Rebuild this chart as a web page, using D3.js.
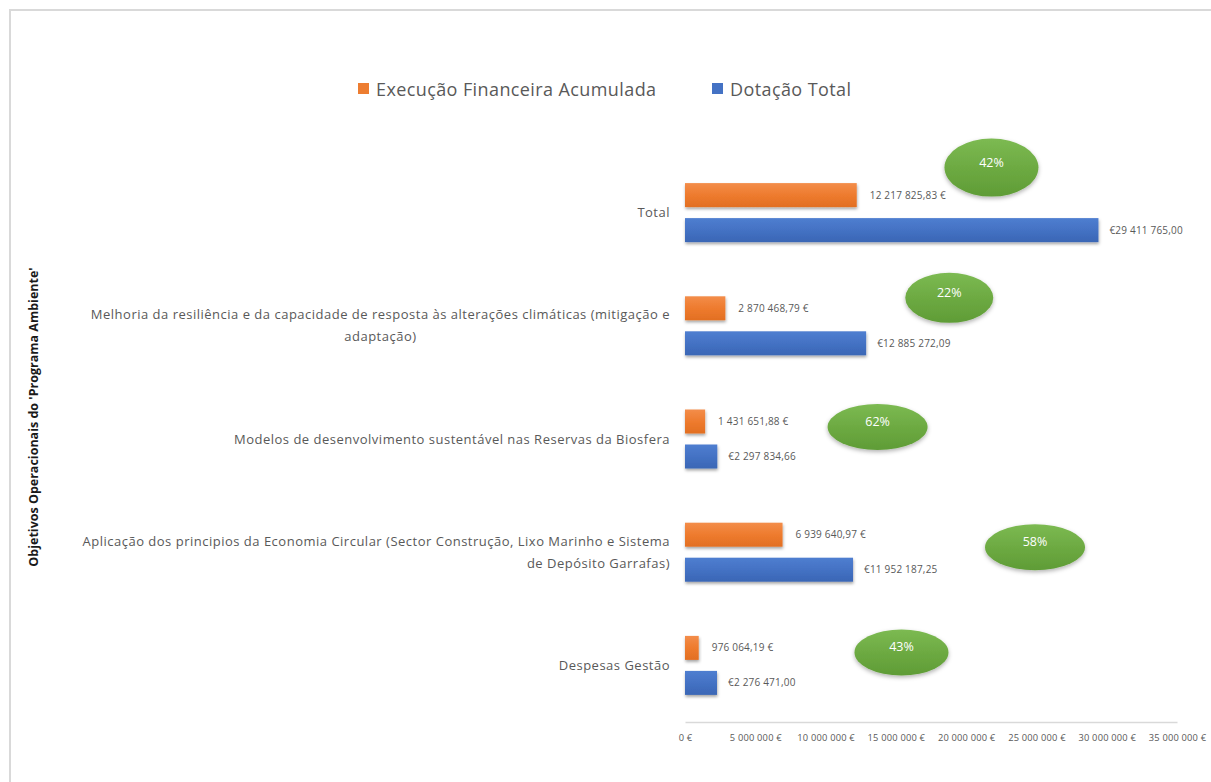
<!DOCTYPE html>
<html lang="pt">
<head>
<meta charset="utf-8">
<title>Programa Ambiente – Execução Financeira</title>
<script src="https://cdn.jsdelivr.net/npm/d3@7"></script>
<style>
  html, body { margin: 0; padding: 0; background: #ffffff; }
  svg { display: block; font-family: "Open Sans", Lato, sans-serif; }
</style>
</head>
<body>
<svg id="chart" width="1211" height="782"></svg>
<script>
// Objetivos operacionais (eixo vertical), de cima para baixo
const categories = [
  "Total",
  "Melhoria da resiliência e da capacidade de resposta às alterações climáticas (mitigação e adaptação)",
  "Modelos de desenvolvimento sustentável nas Reservas da Biosfera",
  "Aplicação dos principios da Economia Circular (Sector Construção, Lixo Marinho e Sistema de Depósito Garrafas)",
  "Despesas Gestão"
];
// Linhas em que cada rótulo de categoria é quebrado
const categoryLines = [
  ["Total"],
  ["Melhoria da resiliência e da capacidade de resposta às alterações climáticas (mitigação e", "adaptação)"],
  ["Modelos de desenvolvimento sustentável nas Reservas da Biosfera"],
  ["Aplicação dos principios da Economia Circular (Sector Construção, Lixo Marinho e Sistema", "de Depósito Garrafas)"],
  ["Despesas Gestão"]
];
const seriesNames = ["Execução Financeira Acumulada", "Dotação Total"];
const execucao = [12217825.83, 2870468.79, 1431651.88, 6939640.97, 976064.19];
const dotacao  = [29411765.00, 12885272.09, 2297834.66, 11952187.25, 2276471.00];
const tickValues = [0, 5000000, 10000000, 15000000, 20000000, 25000000, 30000000, 35000000];
const axisTitle = "Objetivos Operacionais do 'Programa Ambiente'";

// ---- layout ----
const svg = d3.select("#chart");
const W = 1211, H = 782;
const plot = { left: 685, right: 1177, top: 156, bottom: 722 };
const colors = { exec: "#ED7D31", dot: "#4472C4", text: "#595959", green: "#70AD47" };
const barH = 24, barGap = 11;

// where each percentage badge sits: x in axis units, y offset from the band centre
const badgePlace = [
  { at: 21.8e6, dy: -45, rx: 47, ry: 29 },
  { at: 18.8e6, dy: -28, rx: 44, ry: 25 },
  { at: 13.7e6, dy: -12, rx: 50, ry: 23 },
  { at: 24.9e6, dy: -5,  rx: 50, ry: 23 },
  { at: 15.4e6, dy: -13, rx: 47, ry: 23 }
];

const ptLocale = d3.formatLocale({ decimal: ",", thousands: " ", grouping: [3], currency: ["", " €"] });
const money2 = ptLocale.format(",.2f");
const money0 = ptLocale.format(",.0f");
const pct = d3.format(".0%");

const x = d3.scaleLinear().domain([0, 35000000]).range([plot.left, plot.right]);
const y = d3.scaleBand().domain(categories).range([plot.top, plot.bottom]).padding(0);

// ---- defs: gradients and shadows ----
const defs = svg.append("defs");
function vGrad(id, top, mid, bot) {
  const g = defs.append("linearGradient").attr("id", id).attr("x1", 0).attr("y1", 0).attr("x2", 0).attr("y2", 1);
  g.append("stop").attr("offset", "0%").attr("stop-color", top);
  g.append("stop").attr("offset", "50%").attr("stop-color", mid);
  g.append("stop").attr("offset", "100%").attr("stop-color", bot);
}
vGrad("gExec", "#F38D4A", "#EE7B2E", "#E26F22");
vGrad("gDot", "#4F7ED0", "#4472C4", "#3A66B5");
vGrad("gGreen", "#7CBA52", "#6DAA42", "#5F9C36");
const sh = defs.append("filter").attr("id", "shadow").attr("x", "-20%").attr("y", "-30%").attr("width", "140%").attr("height", "180%");
sh.append("feDropShadow").attr("dx", 0.5).attr("dy", 2).attr("stdDeviation", 1.4).attr("flood-color", "#000").attr("flood-opacity", 0.35);
const shE = defs.append("filter").attr("id", "shadowE").attr("x", "-20%").attr("y", "-30%").attr("width", "140%").attr("height", "180%");
shE.append("feDropShadow").attr("dx", 0).attr("dy", 2).attr("stdDeviation", 2).attr("flood-color", "#000").attr("flood-opacity", 0.3);

// ---- frame ----
svg.append("path")
  .attr("d", `M10,${H} V10 H${W}`)
  .attr("fill", "none").attr("stroke", "#d9d9d9").attr("stroke-width", 2);

// ---- legend ----
const legend = svg.append("g").attr("font-size", 18).attr("letter-spacing", 0.4).attr("fill", colors.text);
[[358, colors.exec, seriesNames[0]], [712, colors.dot, seriesNames[1]]].forEach(([lx, c, t]) => {
  legend.append("rect").attr("x", lx).attr("y", 83).attr("width", 11).attr("height", 11).attr("fill", c);
  legend.append("text").attr("x", lx + 18).attr("y", 96).text(t);
});

// ---- x axis ----
const xAxis = d3.axisBottom(x).tickValues(tickValues).tickSize(0).tickPadding(12)
  .tickFormat(d => d === 0 ? "0 €" : money0(d) + " €");
const gx = svg.append("g").attr("transform", `translate(0,${plot.bottom})`).call(xAxis);
gx.select(".domain").attr("stroke", "#d9d9d9").attr("stroke-width", 1.5);
gx.selectAll("text").attr("fill", colors.text).attr("font-size", 9.3).attr("letter-spacing", 0.2)
  .attr("font-family", "'Open Sans', sans-serif");

// ---- y axis title ----
svg.append("text")
  .attr("transform", `translate(38,${(plot.top + plot.bottom) / 2 - 22}) rotate(-90)`)
  .attr("text-anchor", "middle").attr("font-size", 12.5).attr("font-weight", "bold").attr("fill", "#1a1a1a")
  .text(axisTitle);

// ---- category labels ----
const labelRight = 670, lineH = 22;
categories.forEach((c, i) => {
  const lines = categoryLines[i];
  const cy = y(c) + y.bandwidth() / 2;
  const g = svg.append("g").attr("font-size", 13).attr("letter-spacing", 0.5).attr("fill", colors.text);
  const texts = lines.map((ln, k) => g.append("text")
    .attr("y", cy + (k - (lines.length - 1) / 2) * lineH + 4.5).text(ln));
  const widths = texts.map(t => t.node().getComputedTextLength());
  const block = d3.max(widths);
  texts.forEach((t, k) => {
    // last wrapped line of the economy-circular label sits flush right
    if (i === 3 && k > 0) t.attr("x", labelRight).attr("text-anchor", "end");
    else t.attr("x", labelRight - block / 2).attr("text-anchor", "middle");
  });
});

// ---- bars ----
const rows = categories.map((c, i) => ({ c, exec: execucao[i], dot: dotacao[i], i }));
const bars = svg.append("g");
rows.forEach(r => {
  const cy = y(r.c) + y.bandwidth() / 2;
  const yExec = cy - barGap / 2 - barH, yDot = cy + barGap / 2;
  bars.append("rect").attr("x", x(0)).attr("y", yExec)
    .attr("width", x(r.exec) - x(0)).attr("height", barH)
    .attr("fill", "url(#gExec)").attr("filter", "url(#shadow)");
  bars.append("rect").attr("x", x(0)).attr("y", yDot)
    .attr("width", x(r.dot) - x(0)).attr("height", barH)
    .attr("fill", "url(#gDot)").attr("filter", "url(#shadow)");
  bars.append("text").attr("x", x(r.exec) + 13).attr("y", yExec + barH / 2 + 3.5)
    .attr("font-size", 10).attr("letter-spacing", 0.2).attr("fill", colors.text).text(money2(r.exec) + " €");
  bars.append("text").attr("x", x(r.dot) + 11).attr("y", yDot + barH / 2 + 3.5)
    .attr("font-size", 10).attr("letter-spacing", 0.2).attr("fill", colors.text).text("€" + money2(r.dot));
});

// ---- percentage badges ----
rows.forEach(r => {
  const b = badgePlace[r.i];
  const cx = x(b.at), cy = y(r.c) + y.bandwidth() / 2 + b.dy;
  svg.append("ellipse").attr("cx", cx).attr("cy", cy).attr("rx", b.rx).attr("ry", b.ry)
    .attr("fill", "url(#gGreen)").attr("filter", "url(#shadowE)");
  svg.append("text").attr("x", cx).attr("y", cy - 1).attr("text-anchor", "middle")
    .attr("font-size", 12.5).attr("fill", "#ffffff").text(pct(r.exec / r.dot));
});
</script>
</body>
</html>
